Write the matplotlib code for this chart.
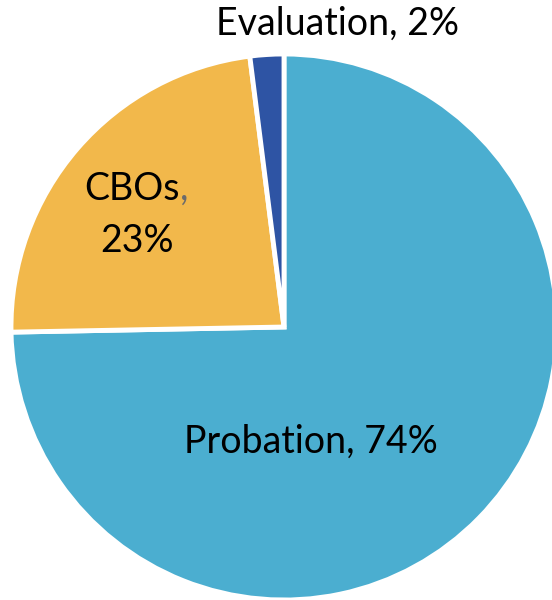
import matplotlib.pyplot as plt

labels = ["Probation", "CBOs", "Evaluation"]
values = [74.7, 23.3, 2.0]
pct_labels = ["74%", "23%", "2%"]
colors = ["#4BAED0", "#F2B84B", "#2E54A4"]

plt.rcParams['font.family'] = ['Lato', 'DejaVu Sans']

fig = plt.figure(figsize=(5.52, 6.0), dpi=100)
ax = fig.add_axes([0, 0, 1, 1])

ax.pie(values, colors=colors, startangle=90, counterclock=False,
       center=(284, 273), radius=273,
       wedgeprops=dict(edgecolor='white', linewidth=3.5))

ax.set_xlim(0, 552)
ax.set_ylim(0, 600)
ax.set_aspect('equal')
ax.axis('off')

fs = 27
ax.text(311, 600 - 453, f"{labels[0]}, {pct_labels[0]}", ha='center', va='baseline',
        fontsize=fs, color='black')
# CBOs label: comma drawn in grey like the original
t = ax.text(132, 600 - 200, labels[1], ha='center', va='baseline',
            fontsize=fs, color='black')
ax.annotate(",", xycoords=t, xy=(1, 0), va='bottom', ha='left',
            fontsize=fs, color='#6b6b6b')
ax.text(137, 600 - 252, pct_labels[1], ha='center', va='baseline',
        fontsize=fs, color='black')
ax.text(337, 600 - 35, f"{labels[2]}, {pct_labels[2]}", ha='center', va='baseline',
        fontsize=fs, color='black')

fig.savefig("out.png", dpi=100)
